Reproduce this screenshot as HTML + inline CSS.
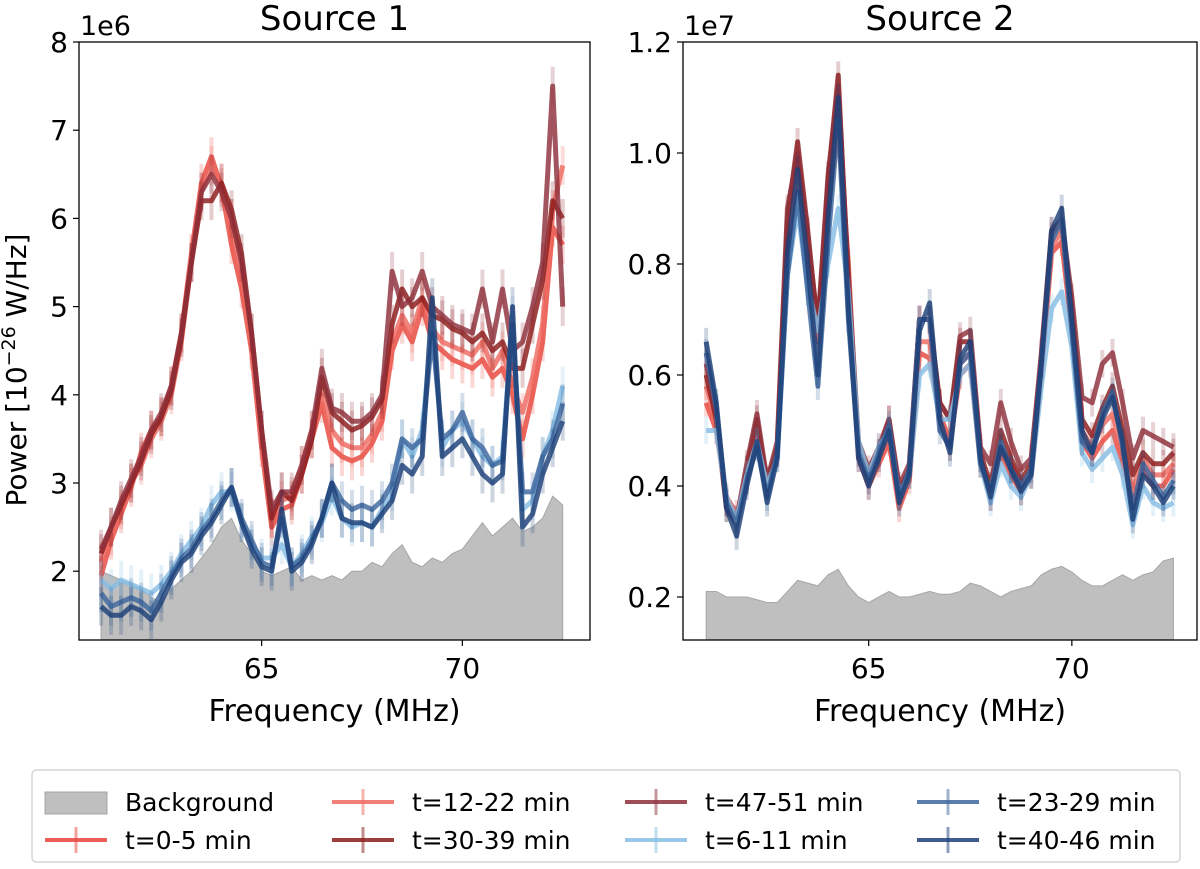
<!DOCTYPE html>
<html><head><meta charset="utf-8">
<style>
body{margin:0;background:#fff;}
svg{display:block;font-family:"DejaVu Sans","Liberation Sans",sans-serif;}
</style></head>
<body>
<svg id="chart" width="1200" height="869" viewBox="0 0 1200 869" xmlns="http://www.w3.org/2000/svg"></svg>
<script>
const freqStart = 61.0;
const freqStep = 0.25;
const seriesLabels = ["t=0-5 min","t=12-22 min","t=30-39 min","t=47-51 min","t=6-11 min","t=23-29 min","t=40-46 min"];
const seriesColors = ["#e8453c","#ee6a60","#8b1a1a","#8e2f3a","#86bde4","#3d679e","#1c3f78"];
const xTicks = [65,70];
const yTicksL = [2,3,4,5,6,7,8];
const yTicksLLabels = ["2","3","4","5","6","7","8"];
const yTicksR = [0.2,0.4,0.6,0.8,1.0,1.2];
const yTicksRLabels = ["0.2","0.4","0.6","0.8","1.0","1.2"];

const L_bg = [2.0,1.95,1.9,1.85,1.8,1.7,1.65,1.8,1.9,2.0,2.15,2.3,2.5,2.6,2.35,2.2,2.0,1.95,2.0,2.05,1.9,1.95,1.9,1.95,1.9,2.0,2.0,2.1,2.05,2.2,2.3,2.1,2.05,2.15,2.1,2.2,2.25,2.4,2.55,2.4,2.5,2.6,2.45,2.5,2.6,2.85,2.75];
const L_r0 = [1.95,2.35,2.65,2.95,3.35,3.6,3.75,4.1,4.7,5.6,6.4,6.7,6.35,5.7,5.2,4.5,3.4,2.5,2.7,2.75,3.1,3.5,3.9,3.4,3.3,3.25,3.3,3.45,3.7,4.5,4.8,4.6,5.0,4.6,4.5,4.4,4.35,4.3,4.4,4.2,4.3,4.0,3.5,4.0,4.6,5.9,5.7];
const L_r1 = [2.1,2.4,2.7,3.0,3.2,3.5,3.7,4.0,4.6,5.5,6.3,6.6,6.4,6.0,5.4,4.6,3.5,2.6,2.8,2.85,3.2,3.6,4.0,3.6,3.45,3.4,3.4,3.55,3.8,4.6,4.9,4.7,5.1,4.75,4.6,4.55,4.5,4.45,4.6,4.3,4.5,4.1,3.8,4.2,4.8,6.1,6.6];
const L_r2 = [2.2,2.5,2.75,3.0,3.25,3.55,3.75,4.05,4.65,5.5,6.2,6.2,6.4,6.1,5.6,4.7,3.6,2.6,2.9,2.8,3.1,3.5,4.2,3.8,3.7,3.6,3.65,3.75,3.95,4.8,5.2,5.0,5.1,4.9,4.85,4.75,4.7,4.6,4.7,4.5,4.6,4.3,4.3,4.8,5.3,6.2,6.0];
const L_r3 = [2.25,2.5,2.8,3.05,3.3,3.6,3.8,4.1,4.7,5.5,6.3,6.5,6.3,6.0,5.5,4.7,3.6,2.7,2.9,2.9,3.2,3.6,4.3,3.85,3.8,3.7,3.7,3.8,4.0,5.4,5.0,5.1,5.4,5.0,4.9,4.8,4.75,4.7,5.2,4.6,5.2,4.5,4.6,5.0,5.5,7.5,5.0];
const L_b0 = [1.9,1.8,1.9,1.85,1.8,1.75,1.85,2.0,2.2,2.35,2.5,2.75,2.9,2.9,2.55,2.3,2.15,2.15,2.3,2.05,2.2,2.4,2.55,2.85,2.6,2.5,2.55,2.5,2.7,2.9,3.5,3.3,3.6,4.8,3.4,3.6,3.7,3.5,3.3,3.2,3.3,4.9,2.7,2.8,3.3,3.6,4.1];
const L_b1 = [1.75,1.6,1.65,1.7,1.65,1.55,1.75,1.95,2.15,2.25,2.45,2.6,2.8,2.95,2.6,2.35,2.1,2.05,2.6,2.05,2.15,2.35,2.6,3.0,2.8,2.7,2.75,2.7,2.8,3.0,3.5,3.4,3.5,4.7,3.5,3.6,3.8,3.5,3.4,3.2,3.25,4.8,2.9,2.9,3.3,3.5,3.9];
const L_b2 = [1.6,1.5,1.5,1.6,1.55,1.45,1.65,1.9,2.1,2.2,2.4,2.55,2.75,2.95,2.55,2.25,2.05,2.0,2.7,2.0,2.1,2.3,2.6,3.0,2.6,2.55,2.55,2.5,2.65,2.8,3.2,3.1,3.3,5.1,3.3,3.4,3.5,3.3,3.1,3.0,3.1,5.0,2.5,2.65,3.1,3.4,3.7];

const R_bg = [0.21,0.21,0.20,0.20,0.20,0.195,0.19,0.19,0.21,0.23,0.225,0.22,0.24,0.25,0.22,0.20,0.19,0.20,0.21,0.20,0.20,0.205,0.21,0.205,0.205,0.21,0.225,0.22,0.21,0.20,0.21,0.215,0.22,0.24,0.25,0.255,0.245,0.23,0.22,0.22,0.23,0.24,0.23,0.24,0.245,0.265,0.27];
const R_r0 = [0.55,0.50,0.38,0.35,0.41,0.48,0.40,0.46,0.82,0.98,0.82,0.70,0.90,1.05,0.80,0.45,0.40,0.44,0.48,0.36,0.41,0.64,0.63,0.53,0.48,0.60,0.62,0.44,0.38,0.46,0.42,0.39,0.42,0.60,0.82,0.84,0.68,0.48,0.45,0.48,0.50,0.44,0.37,0.43,0.40,0.40,0.43];
const R_r1 = [0.58,0.52,0.37,0.34,0.42,0.49,0.41,0.46,0.84,0.99,0.82,0.66,0.92,1.10,0.78,0.46,0.41,0.45,0.49,0.38,0.42,0.66,0.66,0.52,0.47,0.62,0.64,0.45,0.39,0.47,0.44,0.40,0.43,0.61,0.83,0.86,0.70,0.50,0.47,0.51,0.53,0.46,0.39,0.45,0.42,0.42,0.44];
const R_r2 = [0.60,0.52,0.36,0.33,0.43,0.52,0.40,0.47,0.88,1.02,0.86,0.68,0.95,1.14,0.76,0.47,0.42,0.46,0.52,0.39,0.43,0.70,0.70,0.55,0.52,0.66,0.66,0.46,0.40,0.50,0.45,0.41,0.44,0.63,0.85,0.88,0.72,0.52,0.49,0.54,0.58,0.50,0.42,0.46,0.44,0.44,0.46];
const R_r3 = [0.62,0.53,0.37,0.34,0.44,0.53,0.41,0.48,0.90,1.00,0.85,0.69,0.96,1.12,0.78,0.48,0.43,0.47,0.52,0.40,0.44,0.70,0.70,0.55,0.52,0.67,0.68,0.47,0.44,0.55,0.48,0.43,0.45,0.64,0.86,0.88,0.74,0.56,0.55,0.62,0.64,0.55,0.45,0.50,0.49,0.48,0.47];
const R_b0 = [0.50,0.50,0.38,0.34,0.42,0.48,0.40,0.45,0.78,0.90,0.76,0.68,0.80,0.90,0.75,0.48,0.42,0.47,0.50,0.38,0.42,0.60,0.62,0.52,0.52,0.60,0.62,0.44,0.37,0.44,0.40,0.38,0.42,0.58,0.72,0.75,0.65,0.46,0.43,0.45,0.47,0.42,0.33,0.40,0.37,0.36,0.37];
const R_b1 = [0.64,0.54,0.37,0.33,0.41,0.47,0.38,0.46,0.78,0.93,0.75,0.58,0.84,1.06,0.70,0.46,0.41,0.46,0.51,0.38,0.43,0.70,0.70,0.50,0.47,0.62,0.64,0.44,0.39,0.48,0.43,0.40,0.43,0.62,0.84,0.88,0.68,0.48,0.46,0.53,0.57,0.47,0.36,0.44,0.41,0.38,0.41];
const R_b2 = [0.66,0.55,0.36,0.31,0.40,0.48,0.37,0.45,0.82,0.97,0.80,0.60,0.88,1.10,0.72,0.45,0.40,0.45,0.50,0.37,0.42,0.68,0.73,0.52,0.46,0.63,0.66,0.45,0.38,0.47,0.43,0.39,0.42,0.62,0.86,0.90,0.70,0.50,0.46,0.52,0.56,0.48,0.34,0.42,0.40,0.37,0.40];

const NS = "http://www.w3.org/2000/svg";
const svg = document.getElementById("chart");
function mk(tag, attrs, parent) {
  const e = document.createElementNS(NS, tag);
  for (const k in attrs) e.setAttribute(k, attrs[k]);
  (parent || svg).appendChild(e);
  return e;
}

function panel(cfg) {
  const g = mk("g", {});
  
  
  const xs = f => cfg.x0 + (f - cfg.fmin) / (cfg.fmax - cfg.fmin) * (cfg.x1 - cfg.x0);
  const ys = v => cfg.y1 - (v - cfg.vmin) / (cfg.vmax - cfg.vmin) * (cfg.y1 - cfg.y0);
  const fx = i => freqStart + i * freqStep;
  let d = "M" + xs(fx(0)) + "," + ys(cfg.vmin);
  cfg.bg.forEach((v, i) => { d += " L" + xs(fx(i)) + "," + ys(v); });
  d += " L" + xs(fx(cfg.bg.length - 1)) + "," + ys(cfg.vmin) + " Z";
  const bgp = mk("path", {d: d, fill: "#bfbfbf", stroke: "#a6a6a6", "stroke-width": 1}, g);
  
  
  cfg.series.forEach((arr, si) => {
    const sg = mk("g", {}, g);
    
    
    arr.forEach((v, i) => {
      const eb = mk("line", {x1: xs(fx(i)), x2: xs(fx(i)), y1: ys(v - cfg.err), y2: ys(v + cfg.err), stroke: seriesColors[si], "stroke-width": 4, "stroke-opacity": 0.22}, sg);
      
      
    });
    const pts = arr.map((v, i) => xs(fx(i)) + "," + ys(v)).join(" ");
    const pl = mk("polyline", {points: pts, fill: "none", stroke: seriesColors[si], "stroke-width": 5, "stroke-opacity": 0.82, "stroke-linejoin": "round"}, sg);
    
    
  });
  const fr = mk("rect", {x: cfg.x0, y: cfg.y0, width: cfg.x1 - cfg.x0, height: cfg.y1 - cfg.y0, fill: "none", stroke: "#000", "stroke-width": 1.3}, g);
  
  
  xTicks.forEach(t => {
    const tl = mk("line", {x1: xs(t), x2: xs(t), y1: cfg.y1, y2: cfg.y1 + 6, stroke: "#000", "stroke-width": 1.2}, g);
    
    
    const tx = mk("text", {x: xs(t), y: cfg.y1 + 38, "font-size": 28, "text-anchor": "middle"}, g);
    tx.textContent = t;
    
    
  });
  cfg.yt.forEach((t, i) => {
    const tl = mk("line", {x1: cfg.x0 - 6, x2: cfg.x0, y1: ys(t), y2: ys(t), stroke: "#000", "stroke-width": 1.2}, g);
    
    
    const tx = mk("text", {x: cfg.x0 - 11, y: ys(t) + 10, "font-size": 28, "text-anchor": "end"}, g);
    tx.textContent = cfg.ytl[i];
    
    
  });
  const off = mk("text", {x: cfg.x0 + 1, y: cfg.y0 - 7, "font-size": 27}, g);
  off.textContent = cfg.offset;
  
  
  const ti = mk("text", {x: (cfg.x0 + cfg.x1) / 2, y: 30, "font-size": 34, "text-anchor": "middle"}, g);
  ti.textContent = cfg.title;
  
  
  const xl = mk("text", {x: (cfg.x0 + cfg.x1) / 2, y: 721, "font-size": 30, "text-anchor": "middle"}, g);
  xl.textContent = "Frequency (MHz)";
  
  
}

panel({name: "panel-source-1", title: "Source 1", offset: "1e6", x0: 79, x1: 590, y0: 42, y1: 640,
  fmin: 60.45, fmax: 73.18, vmin: 1.22, vmax: 8, err: 0.22, yt: yTicksL, ytl: yTicksLLabels,
  bg: L_bg, series: [L_r0, L_r1, L_r2, L_r3, L_b0, L_b1, L_b2]});
panel({name: "panel-source-2", title: "Source 2", offset: "1e7", x0: 683, x1: 1197, y0: 42, y1: 640,
  fmin: 60.43, fmax: 73.08, vmin: 0.1225, vmax: 1.2, err: 0.025, yt: yTicksR, ytl: yTicksRLabels,
  bg: R_bg, series: [R_r0, R_r1, R_r2, R_r3, R_b0, R_b1, R_b2]});

const yl = mk("text", {x: 0, y: 0, "font-size": 28, "text-anchor": "middle", transform: "translate(26,370) rotate(-90)"});
yl.innerHTML = 'Power [10<tspan dy="-11" font-size="19">−26</tspan><tspan dy="11"> W/Hz]</tspan>';



const lg = mk("g", {});


const lb = mk("rect", {x: 32, y: 770, width: 1148, height: 92, rx: 4, fill: "#fff", stroke: "#cccccc", "stroke-width": 1.2}, lg);


const legendItems = [["Background", -1], [seriesLabels[0], 0], [seriesLabels[1], 1], [seriesLabels[2], 2], [seriesLabels[3], 3], [seriesLabels[4], 4], [seriesLabels[5], 5], [seriesLabels[6], 6]];
const colX = [45, 332, 625, 917];
legendItems.forEach((it, k) => {
  const cx = colX[Math.floor(k / 2)], cy = k % 2 === 0 ? 802 : 840;
  const eg = mk("g", {}, lg);
  
  
  if (it[1] < 0) {
    mk("rect", {x: cx, y: cy - 10, width: 62, height: 22, fill: "#bfbfbf", stroke: "#a6a6a6"}, eg);
  } else {
    const c = seriesColors[it[1]];
    mk("line", {x1: cx, x2: cx + 62, y1: cy, y2: cy, stroke: c, "stroke-width": 4, "stroke-opacity": 0.85}, eg);
    mk("line", {x1: cx + 31, x2: cx + 31, y1: cy - 13, y2: cy + 13, stroke: c, "stroke-width": 3, "stroke-opacity": 0.5}, eg);
  }
  const t = mk("text", {x: cx + 80, y: cy + 9, "font-size": 25}, eg);
  t.textContent = it[0];
});
</script>
</body></html>
